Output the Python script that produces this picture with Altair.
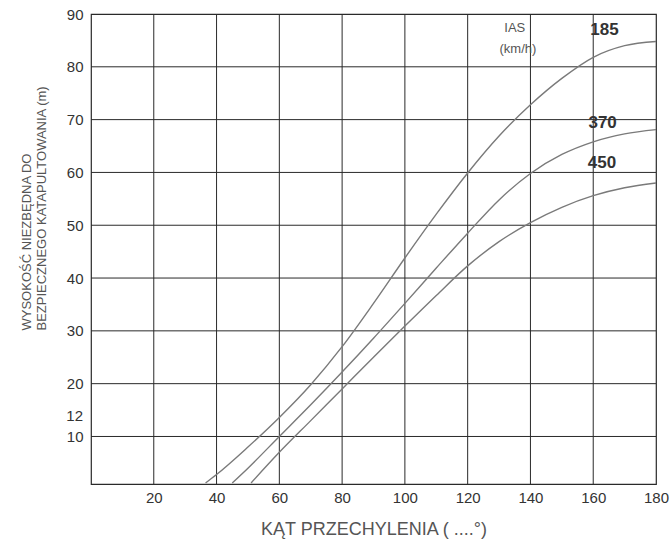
import altair as alt
import pandas as pd

# Curves (x = bank angle, y = height in m)
x_185 = [36.5, 40, 50, 60, 70, 80, 90, 100, 110, 120, 130, 140, 150, 160, 170, 180]
y_185 = [1.2, 2.8, 8.0, 13.6, 19.8, 27.0, 35.2, 43.8, 52.1, 59.9, 66.9, 72.8, 77.8, 81.8, 84.0, 84.8]
x_370 = [45, 50, 60, 70, 80, 90, 100, 110, 120, 130, 140, 150, 160, 170, 180]
y_370 = [1.2, 4.0, 10.0, 16.0, 22.2, 28.6, 35.2, 41.9, 48.5, 54.8, 59.8, 63.4, 65.8, 67.3, 68.1]
x_450 = [51, 60, 70, 80, 90, 100, 110, 120, 130, 140, 150, 160, 170, 180]
y_450 = [1.2, 7.0, 13.0, 19.0, 25.0, 30.9, 36.7, 42.3, 46.9, 50.5, 53.4, 55.6, 57.1, 58.0]

x_ticks = [20, 40, 60, 80, 100, 120, 140, 160, 180]
y_ticks = [10, 20, 30, 40, 50, 60, 70, 80, 90]
x_grid = [20, 40, 60, 80, 100, 120, 140, 160]
y_grid = [10, 20, 30, 40, 50, 60, 70, 80]

# the extra "12" mark on the height axis (drawn slightly above its value, as in the reference)
extra_tick_text = ["12"]
extra_tick_x = [0]
extra_tick_y = [13.8]

label_text = ["IAS", "(km/h)"]
label_x = [135, 136]
label_y = [87.3, 83.4]
speed_text = ["185", "370", "450"]
speed_x = [163.6, 163.0, 162.8]
speed_y = [87.0, 69.4, 61.8]

rows = []
for name, xs, ys in [("185", x_185, y_185), ("370", x_370, y_370), ("450", x_450, y_450)]:
    for a, b in zip(xs, ys):
        rows.append({"ias": name, "kat": a, "h": b})
curves = pd.DataFrame(rows)

xscale = alt.Scale(domain=[0, 180], nice=False, zero=False)
yscale = alt.Scale(domain=[1, 90], nice=False, zero=False)

FONT = "Liberation Sans"

xaxis = alt.Axis(
    values=x_ticks, grid=False, ticks=False, domain=False,
    labelFont=FONT, labelFontSize=15, labelColor="#333", labelPadding=6,
    labelOverlap=False, labelFlush=False,
    title="KĄT PRZECHYLENIA ( ....°)", titleFont=FONT, titleFontSize=18,
    titleFontWeight="normal", titleColor="#555", titlePadding=15,
)
yaxis = alt.Axis(
    values=y_ticks, grid=False, ticks=False, domain=False,
    labelFont=FONT, labelFontSize=15, labelColor="#333", labelPadding=8,
    labelOverlap=False, labelFlush=False,
    title=["WYSOKOŚĆ NIEZBĘDNA DO", "BEZPIECZNEGO KATAPULTOWANIA (m)"],
    titleFont=FONT, titleFontSize=13, titleFontWeight="normal", titleColor="#555",
    titleAngle=270, titleAlign="left", titleBaseline="top",
    titleX=-71, titleY=316, titleLineHeight=15,
)

vgrid = alt.Chart(pd.DataFrame({"g": x_grid})).mark_rule(color="#2a2a2a", strokeWidth=1).encode(
    x=alt.X("g:Q", scale=xscale, axis=xaxis)
)
hgrid = alt.Chart(pd.DataFrame({"g": y_grid})).mark_rule(color="#2a2a2a", strokeWidth=1).encode(
    y=alt.Y("g:Q", scale=yscale, axis=yaxis)
)

lines = alt.Chart(curves).mark_line(color="#7a7a7a", strokeWidth=1.4, interpolate="monotone").encode(
    x=alt.X("kat:Q", scale=xscale),
    y=alt.Y("h:Q", scale=yscale),
    detail="ias:N",
)

extra_tick = alt.Chart(
    pd.DataFrame({"t": extra_tick_text, "x": extra_tick_x, "y": extra_tick_y})
).mark_text(
    font=FONT, fontSize=15, color="#333", align="right", baseline="middle", dx=-8
).encode(x=alt.X("x:Q", scale=xscale), y=alt.Y("y:Q", scale=yscale), text="t:N")

ias_labels = alt.Chart(pd.DataFrame({"t": label_text, "x": label_x, "y": label_y})).mark_text(
    font=FONT, fontSize=13, color="#555", align="center", baseline="middle"
).encode(x=alt.X("x:Q", scale=xscale), y=alt.Y("y:Q", scale=yscale), text="t:N")

speed_labels = alt.Chart(pd.DataFrame({"t": speed_text, "x": speed_x, "y": speed_y})).mark_text(
    font=FONT, fontSize=17, fontWeight="bold", color="#333", align="center", baseline="middle"
).encode(x=alt.X("x:Q", scale=xscale), y=alt.Y("y:Q", scale=yscale), text="t:N")

chart = alt.layer(vgrid, hgrid, lines, extra_tick, ias_labels, speed_labels).properties(
    width=565, height=470,
    autosize=alt.AutoSizeParams(type="none"),
    padding={"left": 91, "top": 14, "right": 14, "bottom": 61},
    background="white",
).configure_view(stroke="#2a2a2a", strokeWidth=1.2)

chart.save("out.html", embed_options={"renderer": "svg", "actions": False})
